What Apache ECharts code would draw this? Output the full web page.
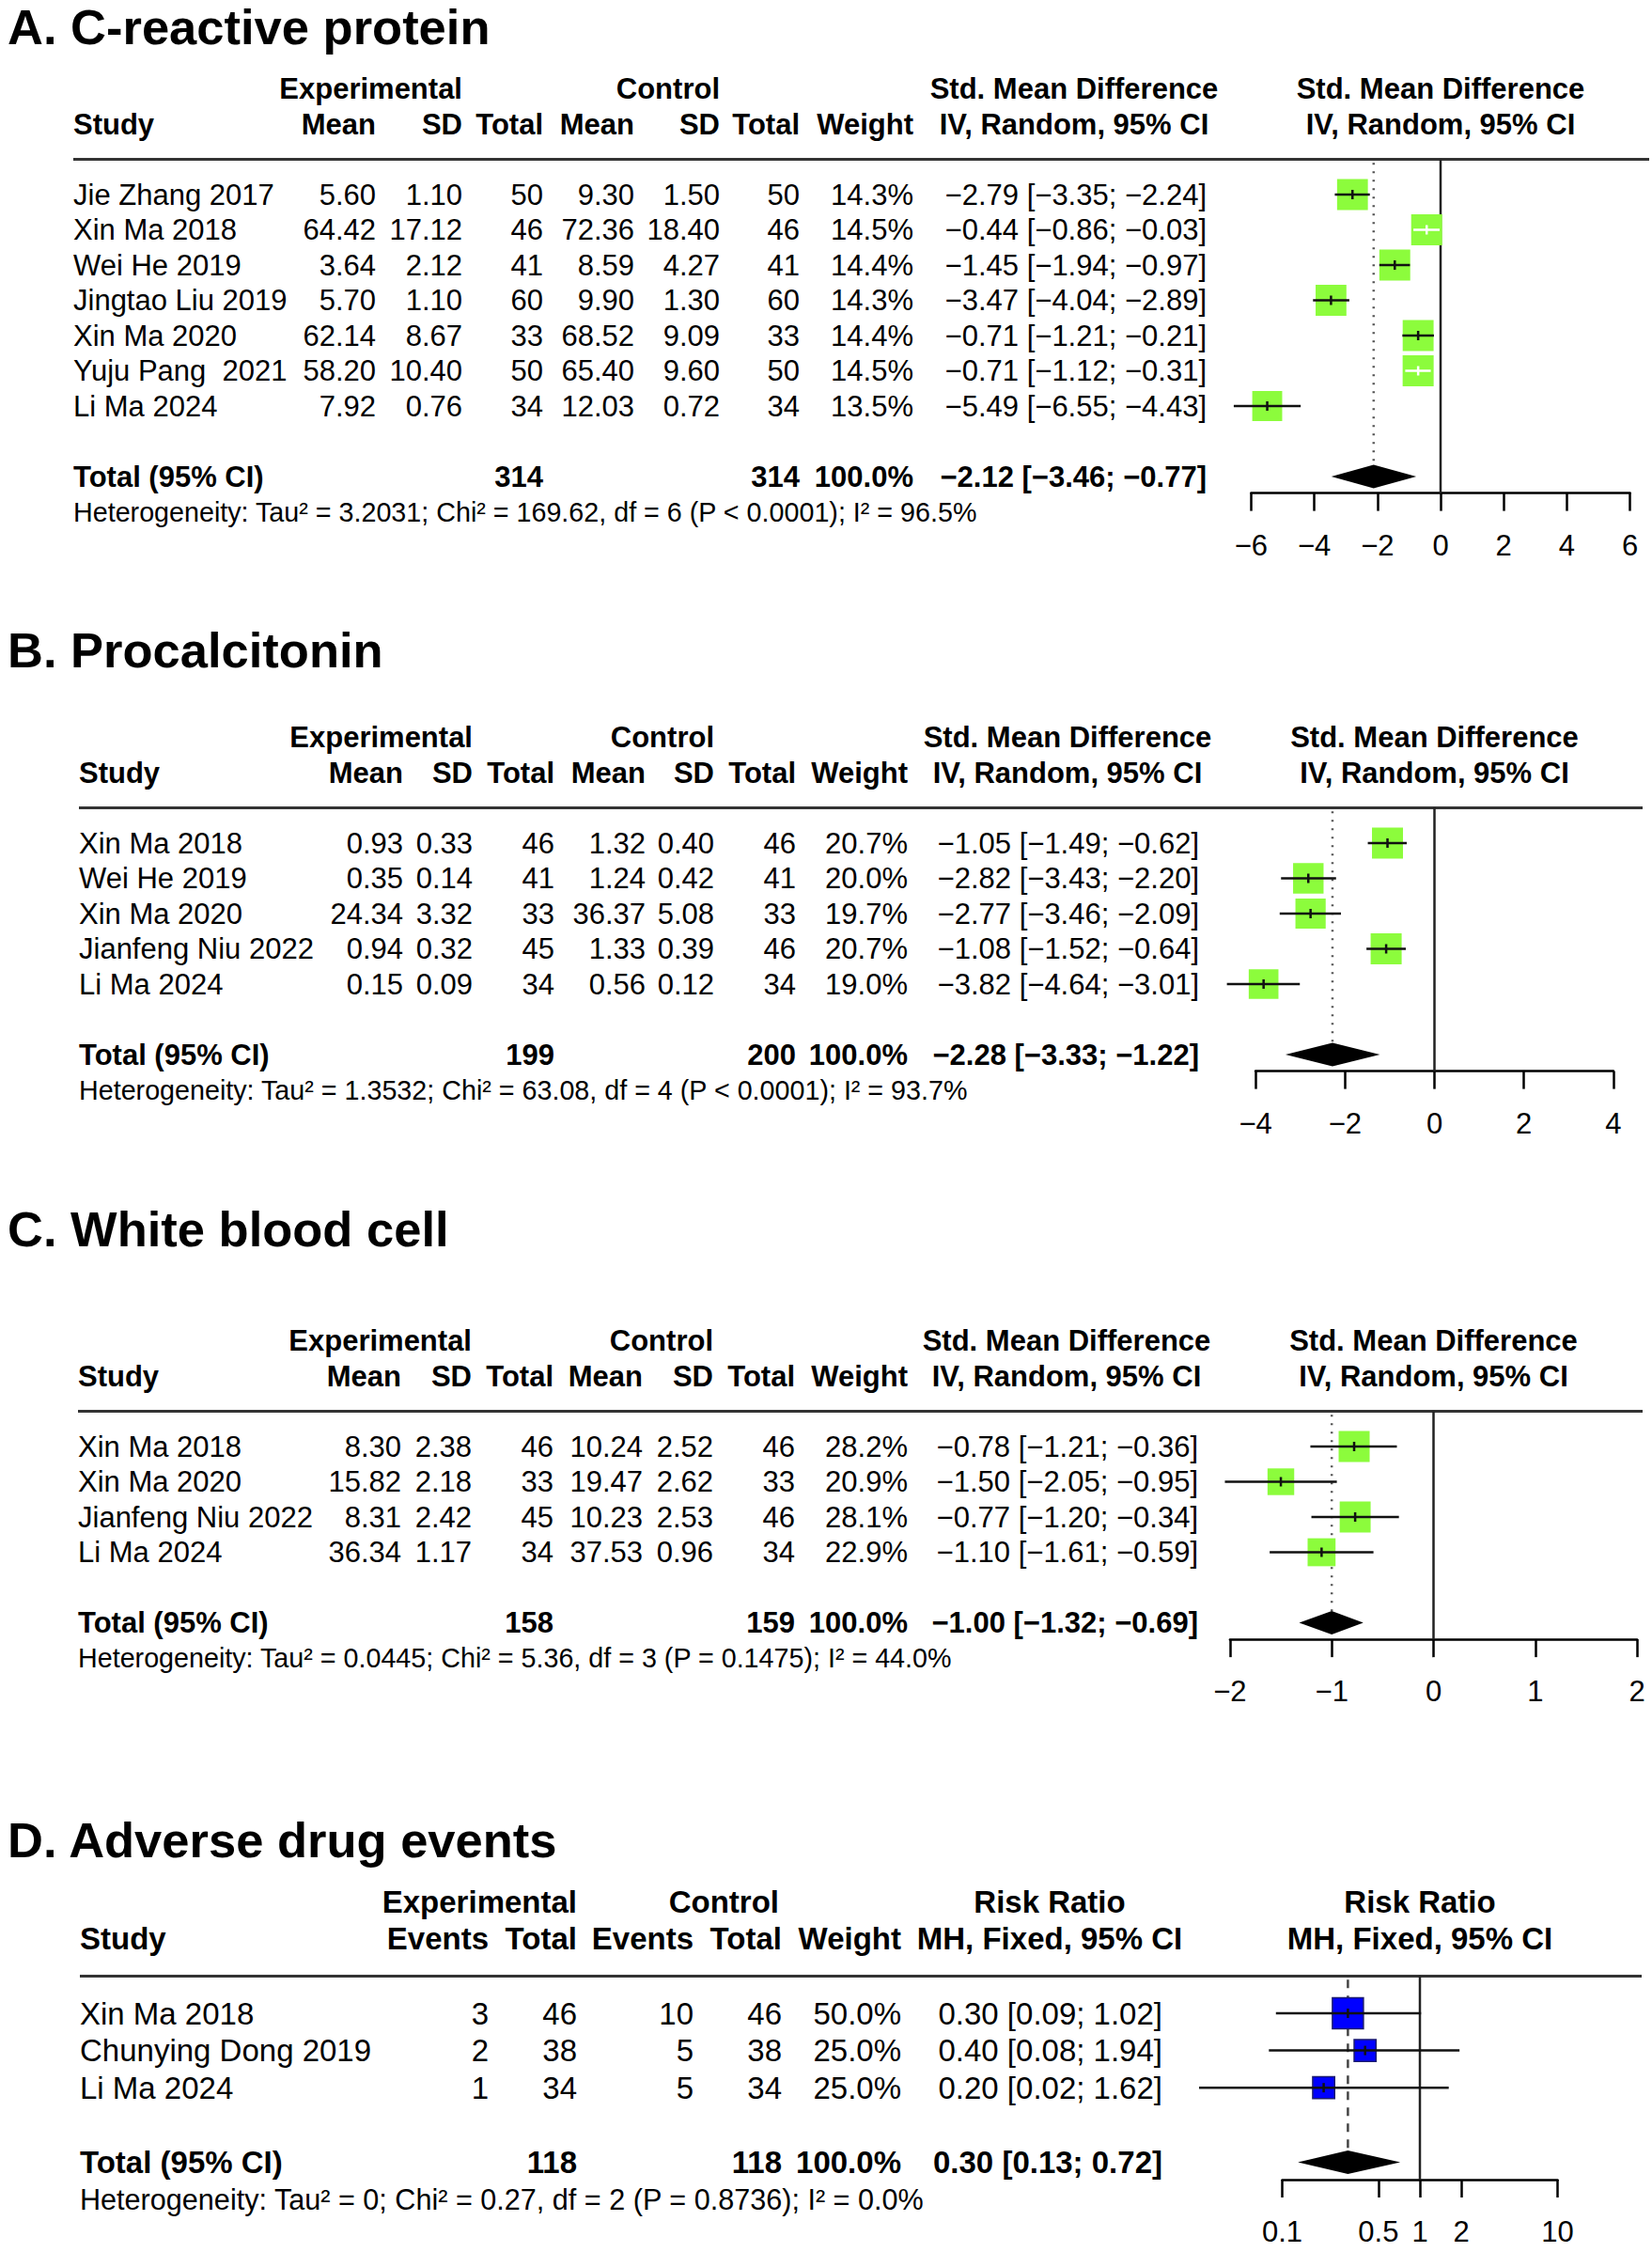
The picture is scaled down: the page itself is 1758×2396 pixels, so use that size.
<!DOCTYPE html>
<html><head><meta charset="utf-8">
<script src="https://cdn.jsdelivr.net/npm/echarts@6/dist/echarts.min.js"></script>
<style>html,body{margin:0;padding:0;background:#fff}#c{width:1758px;height:2396px}</style>
</head><body><div id="c"></div><script>
const FONT = '"Liberation Sans", Arial, Helvetica, sans-serif';

const panelTitles = ['A. C-reactive protein', 'B. Procalcitonin', 'C. White blood cell', 'D. Adverse drug events'];

// ---- Panel A: C-reactive protein ----
const aStudies = ['Jie Zhang 2017', 'Xin Ma 2018', 'Wei He 2019', 'Jingtao Liu 2019', 'Xin Ma 2020', 'Yuju Pang  2021', 'Li Ma 2024'];
const aExpMean = [5.60, 64.42, 3.64, 5.70, 62.14, 58.20, 7.92];
const aExpSD = [1.10, 17.12, 2.12, 1.10, 8.67, 10.40, 0.76];
const aExpN = [50, 46, 41, 60, 33, 50, 34];
const aCtlMean = [9.30, 72.36, 8.59, 9.90, 68.52, 65.40, 12.03];
const aCtlSD = [1.50, 18.40, 4.27, 1.30, 9.09, 9.60, 0.72];
const aCtlN = [50, 46, 41, 60, 33, 50, 34];
const aWeight = [14.3, 14.5, 14.4, 14.3, 14.4, 14.5, 13.5];
const aEst = [-2.79, -0.44, -1.45, -3.47, -0.71, -0.71, -5.49];
const aLow = [-3.35, -0.86, -1.94, -4.04, -1.21, -1.12, -6.55];
const aHigh = [-2.24, -0.03, -0.97, -2.89, -0.21, -0.31, -4.43];
const aTotal = [314, 314, -2.12, -3.46, -0.77];
const aHet = 'Heterogeneity: Tau² = 3.2031; Chi² = 169.62, df = 6 (P < 0.0001); I² = 96.5%';
const aTicks = [-6, -4, -2, 0, 2, 4, 6];

// ---- Panel B: Procalcitonin ----
const bStudies = ['Xin Ma 2018', 'Wei He 2019', 'Xin Ma 2020', 'Jianfeng Niu 2022', 'Li Ma 2024'];
const bExpMean = [0.93, 0.35, 24.34, 0.94, 0.15];
const bExpSD = [0.33, 0.14, 3.32, 0.32, 0.09];
const bExpN = [46, 41, 33, 45, 34];
const bCtlMean = [1.32, 1.24, 36.37, 1.33, 0.56];
const bCtlSD = [0.40, 0.42, 5.08, 0.39, 0.12];
const bCtlN = [46, 41, 33, 46, 34];
const bWeight = [20.7, 20.0, 19.7, 20.7, 19.0];
const bEst = [-1.05, -2.82, -2.77, -1.08, -3.82];
const bLow = [-1.49, -3.43, -3.46, -1.52, -4.64];
const bHigh = [-0.62, -2.20, -2.09, -0.64, -3.01];
const bTotal = [199, 200, -2.28, -3.33, -1.22];
const bHet = 'Heterogeneity: Tau² = 1.3532; Chi² = 63.08, df = 4 (P < 0.0001); I² = 93.7%';
const bTicks = [-4, -2, 0, 2, 4];

// ---- Panel C: White blood cell ----
const cStudies = ['Xin Ma 2018', 'Xin Ma 2020', 'Jianfeng Niu 2022', 'Li Ma 2024'];
const cExpMean = [8.30, 15.82, 8.31, 36.34];
const cExpSD = [2.38, 2.18, 2.42, 1.17];
const cExpN = [46, 33, 45, 34];
const cCtlMean = [10.24, 19.47, 10.23, 37.53];
const cCtlSD = [2.52, 2.62, 2.53, 0.96];
const cCtlN = [46, 33, 46, 34];
const cWeight = [28.2, 20.9, 28.1, 22.9];
const cEst = [-0.78, -1.50, -0.77, -1.10];
const cLow = [-1.21, -2.05, -1.20, -1.61];
const cHigh = [-0.36, -0.95, -0.34, -0.59];
const cTotal = [158, 159, -1.00, -1.32, -0.69];
const cHet = 'Heterogeneity: Tau² = 0.0445; Chi² = 5.36, df = 3 (P = 0.1475); I² = 44.0%';
const cTicks = [-2, -1, 0, 1, 2];

// ---- Panel D: Adverse drug events ----
const dStudies = ['Xin Ma 2018', 'Chunying Dong 2019', 'Li Ma 2024'];
const dExpEvents = [3, 2, 1];
const dExpN = [46, 38, 34];
const dCtlEvents = [10, 5, 5];
const dCtlN = [46, 38, 34];
const dWeight = [50.0, 25.0, 25.0];
const dEst = [0.30, 0.40, 0.20];
const dLow = [0.09, 0.08, 0.02];
const dHigh = [1.02, 1.94, 1.62];
const dTotal = [118, 118, 0.30, 0.13, 0.72];
const dHet = 'Heterogeneity: Tau² = 0; Chi² = 0.27, df = 2 (P = 0.8736); I² = 0.0%';
const dTicks = [0.1, 0.5, 1, 2, 10];

const headSMD = ['Std. Mean Difference', 'IV, Random, 95% CI'];
const headRR = ['Risk Ratio', 'MH, Fixed, 95% CI'];
const colsMean = ['Mean', 'SD', 'Total', 'Mean', 'SD', 'Total', 'Weight'];
const colsEvents = ['Events', 'Total', 'Events', 'Total', 'Weight'];

// ---------- helpers ----------
const f2 = v => v.toFixed(2);
const sg = v => (v < 0 ? '\u2212' : '') + Math.abs(v).toFixed(2);
const pct = v => v.toFixed(1) + '%';
const ci = (e, l, h) => `${sg(e)} [${sg(l)}; ${sg(h)}]`;

// layout (positions only)
const panels = [
  { title: panelTitles[0], titleY: 28, row0: 207, rowH: 37.5, studyX: 78, fs: 31, hfs: 28.7,
    colR: [400, 492, 578, 675, 766, 851, 972], ciR: 1284, ciHeadX: 1143, groupR: [492, 766],
    zeroPx: 1533, ppu: 33.6, log: false, lineR: 1755,
    studies: aStudies, cols: [aExpMean.map(f2), aExpSD.map(f2), aExpN, aCtlMean.map(f2), aCtlSD.map(f2), aCtlN, aWeight.map(pct)],
    colHeads: colsMean, totalCols: [2, 5], weightCol: 6, head: headSMD,
    est: aEst, low: aLow, high: aHigh, weight: aWeight, total: aTotal, het: aHet, ticks: aTicks,
    sq: '#8cfc3c', sqStroke: null, refDash: [2, 7], refColor: '#555' },
  { title: panelTitles[1], titleY: 691, row0: 897, rowH: 37.5, studyX: 84, fs: 31, hfs: 28.7,
    colR: [429, 503, 590, 687, 760, 847, 966], ciR: 1276, ciHeadX: 1136, groupR: [503, 760],
    zeroPx: 1526.5, ppu: 47.6, log: false, lineR: 1748,
    studies: bStudies, cols: [bExpMean.map(f2), bExpSD.map(f2), bExpN, bCtlMean.map(f2), bCtlSD.map(f2), bCtlN, bWeight.map(pct)],
    colHeads: colsMean, totalCols: [2, 5], weightCol: 6, head: headSMD,
    est: bEst, low: bLow, high: bHigh, weight: bWeight, total: bTotal, het: bHet, ticks: bTicks,
    sq: '#8cfc3c', sqStroke: null, refDash: [2, 7], refColor: '#555' },
  { title: panelTitles[2], titleY: 1307, row0: 1539, rowH: 37.5, studyX: 83, fs: 31, hfs: 28.7,
    colR: [427, 502, 589, 684, 759, 846, 966], ciR: 1275, ciHeadX: 1135, groupR: [502, 759],
    zeroPx: 1525.5, ppu: 108.3, log: false, lineR: 1748,
    studies: cStudies, cols: [cExpMean.map(f2), cExpSD.map(f2), cExpN, cCtlMean.map(f2), cCtlSD.map(f2), cCtlN, cWeight.map(pct)],
    colHeads: colsMean, totalCols: [2, 5], weightCol: 6, head: headSMD,
    est: cEst, low: cLow, high: cHigh, weight: cWeight, total: cTotal, het: cHet, ticks: cTicks,
    sq: '#8cfc3c', sqStroke: null, refDash: [2, 7], refColor: '#555' },
  { title: panelTitles[3], titleY: 1957, row0: 2142, rowH: 39.6, studyX: 85, fs: 33, hfs: 30.6,
    colR: [520, 614, 738, 832, 959], ciR: 1237, ciHeadX: 1117, groupR: [614, 829],
    zeroPx: 1511, ppu: 146.5, log: true, lineR: 1747, clipLeft: 1276,
    studies: dStudies, cols: [dExpEvents, dExpN, dCtlEvents, dCtlN, dWeight.map(pct)],
    colHeads: colsEvents, totalCols: [1, 3], weightCol: 4, head: headRR,
    est: dEst, low: dLow, high: dHigh, weight: dWeight, total: dTotal, het: dHet, ticks: dTicks,
    sq: '#0000ff', sqStroke: '#1c1c70', refDash: [9, 8], refColor: '#444' }
];

function txt(x, y, text, align, bold, size) {
  return { type: 'text', x: x, y: y, silent: true, z: 10,
    style: { text: String(text), fill: '#000',
      font: (bold ? 'bold ' : '') + (size || 31) + 'px ' + FONT,
      textAlign: align || 'left', textVerticalAlign: 'middle' } };
}

const grids = [], xAxes = [], yAxes = [], series = [], graphics = [];

panels.forEach((p, i) => {
  const n = p.studies.length;
  const yMax = n + 1.47;
  const rowY = k => p.row0 + k * p.rowH;
  const gTop = rowY(-1), gBot = rowY(yMax);
  const aMin = p.ticks[0], aMax = p.ticks[p.ticks.length - 1];
  const toPx = v => p.log ? p.zeroPx + Math.log10(v) * p.ppu : p.zeroPx + v * p.ppu;
  const gLeft = toPx(aMin), gRight = toPx(aMax);
  grids.push({ left: gLeft, top: gTop, width: gRight - gLeft, height: gBot - gTop, containLabel: false });
  const fmtTick = v => p.log ? String(v) : (v < 0 ? '\u2212' : '') + Math.abs(v);
  const xa = { gridIndex: i, type: p.log ? 'log' : 'value', min: aMin, max: aMax, position: 'bottom',
    splitLine: { show: false },
    axisLine: { show: true, onZero: false, lineStyle: { color: '#000', width: 2.5 } },
    axisTick: { show: true, inside: false, length: 19, lineStyle: { color: '#000', width: 2.5 } },
    axisLabel: { show: true, margin: 40, fontSize: 31, fontFamily: FONT, color: '#000',
      showMinLabel: true, showMaxLabel: true, formatter: fmtTick } };
  if (p.log) {
    xa.logBase = 10;
    xa.axisTick.customValues = p.ticks;
    xa.axisLabel.customValues = p.ticks;
  } else {
    xa.interval = p.ticks[1] - p.ticks[0];
  }
  xAxes.push(xa);
  yAxes.push({ gridIndex: i, type: 'value', inverse: true, min: -1, max: yMax, show: false });

  const nullV = p.log ? 1 : 0;
  const maxW = Math.max(...p.weight);
  const clipLeft = p.clipLeft || -1e9;

  // decoration: top rule, null line, reference line, diamond
  series.push({
    type: 'custom', xAxisIndex: i, yAxisIndex: i, clip: false, silent: true, z: 1,
    data: [[p.total[2], n + 1, p.total[3], p.total[4]]],
    renderItem: (params, api) => {
      const e = api.value(0), r = api.value(1), lo = api.value(2), hi = api.value(3);
      const top = api.coord([nullV, -1]);
      const bot = api.coord([nullV, yMax]);
      const c = api.coord([e, r]);
      const l = api.coord([lo, r]), h = api.coord([hi, r]);
      const refTop = api.coord([e, -0.9]);
      const hh = 12.5;
      return { type: 'group', children: [
        { type: 'line', shape: { x1: p.studyX, y1: top[1], x2: p.lineR, y2: top[1] }, style: { stroke: '#333', lineWidth: 3 } },
        { type: 'line', shape: { x1: top[0], y1: top[1], x2: bot[0], y2: bot[1] }, style: { stroke: '#222', lineWidth: 2.5 } },
        { type: 'line', shape: { x1: c[0], y1: refTop[1], x2: c[0], y2: c[1] - hh }, style: { stroke: p.refColor, lineWidth: 2.5, lineDash: p.refDash } },
        { type: 'polygon', shape: { points: [[l[0], c[1]], [c[0], c[1] - hh], [h[0], c[1]], [c[0], c[1] + hh]] }, style: { fill: '#000' } }
      ] };
    }
  });

  // study squares and CIs
  series.push({
    type: 'custom', xAxisIndex: i, yAxisIndex: i, clip: false, silent: true, z: 2,
    data: p.est.map((e, k) => [e, k, p.low[k], p.high[k], p.weight[k]]),
    renderItem: (params, api) => {
      const e = api.value(0), r = api.value(1), lo = api.value(2), hi = api.value(3), w = api.value(4);
      const c = api.coord([e, r]);
      const x1 = Math.max(api.coord([lo, r])[0], clipLeft);
      const x2 = api.coord([hi, r])[0];
      const s = 33 * Math.sqrt(w / maxW);
      const inside = x1 >= c[0] - s / 2 && x2 <= c[0] + s / 2;
      const lc = inside ? '#ffffff' : '#111';
      return { type: 'group', children: [
        { type: 'rect', shape: { x: c[0] - s / 2, y: c[1] - s / 2, width: s, height: s },
          style: p.sqStroke ? { fill: p.sq, stroke: p.sqStroke, lineWidth: 1.5 } : { fill: p.sq } },
        { type: 'line', shape: { x1: x1, y1: c[1], x2: x2, y2: c[1] }, style: { stroke: lc, lineWidth: 2.5 } },
        { type: 'line', shape: { x1: c[0], y1: c[1] - 5, x2: c[0], y2: c[1] + 5 }, style: { stroke: lc, lineWidth: 2.5 } }
      ] };
    }
  });

  // ---- table text ----
  const fs = p.fs;
  graphics.push(txt(8, p.titleY, p.title, 'left', true, 52.5));
  graphics.push(txt(p.groupR[0], rowY(-3), 'Experimental', 'right', true, fs));
  graphics.push(txt(p.groupR[1], rowY(-3), 'Control', 'right', true, fs));
  graphics.push(txt(p.ciHeadX, rowY(-3), p.head[0], 'center', true, fs));
  graphics.push(txt(p.ciHeadX, rowY(-2), p.head[1], 'center', true, fs));
  graphics.push(txt(p.zeroPx, rowY(-3), p.head[0], 'center', true, fs));
  graphics.push(txt(p.zeroPx, rowY(-2), p.head[1], 'center', true, fs));
  graphics.push(txt(p.studyX, rowY(-2), 'Study', 'left', true, fs));
  p.colHeads.forEach((h, j) => graphics.push(txt(p.colR[j], rowY(-2), h, 'right', true, fs)));
  p.studies.forEach((s, k) => {
    graphics.push(txt(p.studyX, rowY(k), s, 'left', false, fs));
    p.cols.forEach((col, j) => graphics.push(txt(p.colR[j], rowY(k), col[k], 'right', false, fs)));
    graphics.push(txt(p.ciR, rowY(k), p.log ? `${f2(p.est[k])} [${f2(p.low[k])}; ${f2(p.high[k])}]` : ci(p.est[k], p.low[k], p.high[k]), 'right', false, fs));
  });
  const tr = n + 1;
  graphics.push(txt(p.studyX, rowY(tr), 'Total (95% CI)', 'left', true, fs));
  graphics.push(txt(p.colR[p.totalCols[0]], rowY(tr), p.total[0], 'right', true, fs));
  graphics.push(txt(p.colR[p.totalCols[1]], rowY(tr), p.total[1], 'right', true, fs));
  graphics.push(txt(p.colR[p.weightCol], rowY(tr), '100.0%', 'right', true, fs));
  graphics.push(txt(p.ciR, rowY(tr), p.log ? `${f2(p.total[2])} [${f2(p.total[3])}; ${f2(p.total[4])}]` : ci(p.total[2], p.total[3], p.total[4]), 'right', true, fs));
  graphics.push(txt(p.studyX, rowY(n + 2), p.het, 'left', false, p.hfs));
});

const chart = echarts.init(document.getElementById('c'), null, { renderer: 'svg', width: 1758, height: 2396 });
chart.setOption({
  backgroundColor: '#ffffff',
  animation: false,
  grid: grids, xAxis: xAxes, yAxis: yAxes, series: series,
  graphic: { elements: graphics }
});
</script></body></html>
